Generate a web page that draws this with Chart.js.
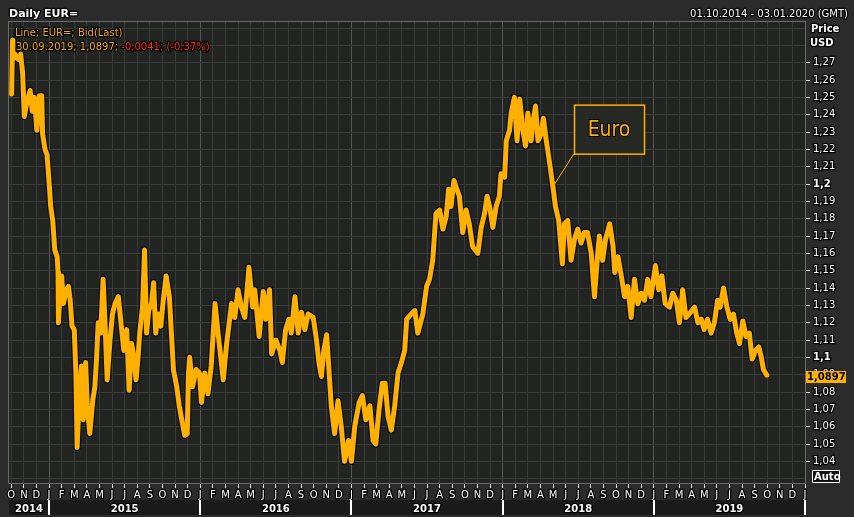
<!DOCTYPE html>
<html>
<head>
<meta charset="utf-8">
<script src="https://cdn.jsdelivr.net/npm/chart.js@4/dist/chart.umd.min.js"></script>
<style>
  html, body { margin: 0; padding: 0; background: #2b2b2b; }
  canvas { display: block; }
</style>
</head>
<body>
<canvas id="eur" width="854" height="517"></canvas>
<script>
// EUR= daily bid (roughly weekly samples)
const dates = [
  '2014-10-02','2014-10-04','2014-10-05','2014-10-10','2014-10-18','2014-10-24','2014-10-29',
  '2014-11-02','2014-11-08','2014-11-16','2014-11-21','2014-11-26',
  '2014-12-02','2014-12-08','2014-12-14','2014-12-16','2014-12-22','2014-12-27',
  '2015-01-02','2015-01-05','2015-01-10','2015-01-15','2015-01-21','2015-01-23','2015-01-24','2015-01-28',
  '2015-02-01','2015-02-05','2015-02-11','2015-02-16','2015-02-20','2015-02-24',
  '2015-03-01','2015-03-05','2015-03-08','2015-03-13','2015-03-19','2015-03-23','2015-03-29',
  '2015-04-02','2015-04-08','2015-04-15','2015-04-20','2015-04-24','2015-04-28',
  '2015-05-04','2015-05-10','2015-05-15','2015-05-20','2015-05-27',
  '2015-06-02','2015-06-08','2015-06-16','2015-06-21','2015-06-29',
  '2015-07-06','2015-07-12','2015-07-18','2015-07-24','2015-07-29',
  '2015-08-03','2015-08-07','2015-08-14','2015-08-19','2015-08-24','2015-08-29',
  '2015-09-05','2015-09-10','2015-09-15','2015-09-21','2015-09-27',
  '2015-10-03','2015-10-10','2015-10-18','2015-10-24','2015-10-28',
  '2015-11-05','2015-11-11','2015-11-17','2015-11-24','2015-11-30',
  '2015-12-03','2015-12-06','2015-12-13','2015-12-22','2015-12-30',
  '2016-01-04','2016-01-12','2016-01-20','2016-01-28',
  '2016-02-06','2016-02-13','2016-02-25',
  '2016-03-04','2016-03-16','2016-03-24',
  '2016-04-01','2016-04-09','2016-04-17','2016-04-27',
  '2016-05-06','2016-05-11','2016-05-22',
  '2016-06-01','2016-06-07','2016-06-16','2016-06-21',
  '2016-07-01','2016-07-11','2016-07-17','2016-07-25',
  '2016-08-02','2016-08-08','2016-08-17','2016-08-25',
  '2016-09-02','2016-09-10','2016-09-18','2016-09-30',
  '2016-10-08','2016-10-14','2016-10-20','2016-10-26',
  '2016-11-02','2016-11-09','2016-11-13','2016-11-21','2016-11-29',
  '2016-12-07','2016-12-15','2016-12-25',
  '2017-01-01','2017-01-09','2017-01-20','2017-01-28',
  '2017-02-05','2017-02-14','2017-02-21','2017-02-27',
  '2017-03-07','2017-03-15','2017-03-22','2017-03-29',
  '2017-04-06','2017-04-14','2017-04-22','2017-04-30',
  '2017-05-08','2017-05-13','2017-05-24',
  '2017-06-02','2017-06-09','2017-06-21','2017-06-30',
  '2017-07-07','2017-07-15','2017-07-23',
  '2017-08-01','2017-08-09','2017-08-17','2017-08-23','2017-08-29',
  '2017-09-05','2017-09-12','2017-09-18','2017-09-26',
  '2017-10-04','2017-10-12','2017-10-20',
  '2017-11-02','2017-11-10','2017-11-18','2017-11-24','2017-11-30',
  '2017-12-08','2017-12-16','2017-12-24','2017-12-28',
  '2018-01-06','2018-01-10','2018-01-18','2018-01-22','2018-01-30',
  '2018-02-05','2018-02-11','2018-02-18','2018-02-24',
  '2018-03-01','2018-03-09','2018-03-13','2018-03-20','2018-03-26',
  '2018-04-03','2018-04-08','2018-04-15','2018-04-23',
  '2018-05-01','2018-05-07','2018-05-15','2018-05-24','2018-05-29',
  '2018-06-06','2018-06-14','2018-06-22','2018-06-30',
  '2018-07-08','2018-07-16','2018-07-24',
  '2018-08-02','2018-08-10','2018-08-18','2018-08-22','2018-08-30',
  '2018-09-06','2018-09-16','2018-09-24','2018-09-28',
  '2018-10-06','2018-10-14','2018-10-22','2018-10-30',
  '2018-11-07','2018-11-15','2018-11-23',
  '2018-12-01','2018-12-09','2018-12-17','2018-12-25',
  '2019-01-05','2019-01-13','2019-01-21','2019-01-29',
  '2019-02-08','2019-02-15','2019-02-23',
  '2019-03-02','2019-03-10','2019-03-18','2019-03-26',
  '2019-04-08','2019-04-16','2019-04-24',
  '2019-05-01','2019-05-09','2019-05-18','2019-05-26',
  '2019-06-03','2019-06-09','2019-06-17','2019-06-25',
  '2019-07-03','2019-07-11','2019-07-19','2019-07-26',
  '2019-08-03','2019-08-11','2019-08-19','2019-08-26',
  '2019-09-03','2019-09-11','2019-09-17','2019-09-22','2019-09-30'
];
const prices = [
  1.252,1.283,1.272,1.275,1.272,1.275,1.264,
  1.239,1.247,1.254,1.242,1.250,
  1.231,1.251,1.251,1.229,1.220,1.217,
  1.198,1.187,1.179,1.162,1.158,1.149,1.120,1.137,
  1.147,1.131,1.139,1.141,1.133,1.118,
  1.116,1.091,1.048,1.075,1.095,1.064,1.097,
  1.072,1.056,1.075,1.083,1.099,1.120,
  1.114,1.145,1.118,1.087,1.110,
  1.125,1.131,1.135,1.123,1.104,
  1.116,1.081,1.108,1.100,1.087,
  1.100,1.114,1.129,1.162,1.114,1.127,
  1.131,1.143,1.114,1.125,1.118,
  1.133,1.147,1.135,1.110,1.093,
  1.083,1.072,1.064,1.055,1.056,
  1.091,1.100,1.083,1.093,1.091,
  1.074,1.091,1.079,1.095,
  1.131,1.114,1.087,
  1.108,1.131,1.123,
  1.139,1.129,1.123,1.152,
  1.129,1.139,1.112,
  1.138,1.122,1.139,1.102,
  1.110,1.104,1.097,1.116,
  1.122,1.114,1.135,1.114,
  1.126,1.116,1.125,1.123,
  1.110,1.097,1.089,1.104,
  1.113,1.087,1.072,1.056,1.075,
  1.060,1.040,1.052,
  1.040,1.060,1.074,1.078,
  1.064,1.072,1.052,1.050,
  1.070,1.085,1.085,1.066,
  1.058,1.072,1.091,1.097,
  1.104,1.122,1.125,
  1.127,1.114,1.125,1.141,
  1.145,1.156,1.183,
  1.185,1.174,1.181,1.197,1.187,
  1.202,1.197,1.193,1.172,
  1.185,1.177,1.164,
  1.160,1.175,1.183,1.193,1.187,
  1.175,1.187,1.193,1.206,
  1.204,1.225,1.231,1.241,1.250,
  1.225,1.249,1.231,1.222,
  1.241,1.225,1.235,1.245,1.225,
  1.229,1.238,1.225,1.212,
  1.198,1.187,1.179,1.154,1.177,
  1.179,1.156,1.168,1.174,
  1.166,1.172,1.172,
  1.160,1.135,1.160,1.170,1.156,
  1.168,1.177,1.164,1.149,
  1.158,1.147,1.135,1.141,
  1.123,1.145,1.131,
  1.137,1.133,1.145,1.135,
  1.153,1.139,1.147,1.131,
  1.129,1.137,1.133,
  1.120,1.139,1.123,1.125,
  1.129,1.120,1.122,
  1.116,1.122,1.114,1.120,
  1.133,1.129,1.140,1.129,
  1.122,1.125,1.114,1.108,
  1.121,1.112,1.114,1.099,
  1.104,1.106,1.100,1.093,1.0897
];

const priceTicks = [1.04,1.05,1.06,1.07,1.08,1.09,1.1,1.11,1.12,1.13,1.14,1.15,1.16,
  1.17,1.18,1.19,1.2,1.21,1.22,1.23,1.24,1.25,1.26,1.27];
const boldTicks = [1.1, 1.2];
const monthLetters = ['O','N','D','J','F','M','A','M','J','J','A','S'];
const years = ['2014','2015','2016','2017','2018','2019'];
const lastPrice = '1,0897';
const euroNote = { text: 'Euro', date: '2018-05-01', price: 1.1985 };

const FONT = '"DejaVu Sans", Verdana, sans-serif';
const ORANGE = '#ffb000';

// months since 1 Oct 2014, fractional
function monthIndex(d) {
  const [y, m, dd] = d.split('-').map(Number);
  const dim = new Date(y, m, 0).getDate();
  return (y - 2014) * 12 + (m - 10) + (dd - 1) / dim;
}
const points = dates.map((d, i) => ({ x: monthIndex(d), y: prices[i] }));

const isIn = (list, v) => v != null && list.some(p => Math.abs(p - v) < 1e-6);
const tickVal = c => (c && c.tick) ? c.tick.value : null;

function outlined(ctx, text, x, y, fill, w) {
  ctx.lineJoin = 'round';
  ctx.strokeStyle = '#000';
  ctx.lineWidth = w || 2.5;
  ctx.strokeText(text, x, y);
  ctx.fillStyle = fill;
  ctx.fillText(text, x, y);
}

const frame = {
  id: 'frame',
  beforeDraw(chart) {
    const { ctx, chartArea: a } = chart;
    ctx.save();
    ctx.fillStyle = '#2b2b2b';
    ctx.fillRect(0, 0, chart.width, chart.height);
    ctx.fillStyle = '#222421';
    ctx.fillRect(a.left, a.top, a.right - a.left, a.bottom - a.top);
    // year band under the month letters
    ctx.fillStyle = '#1a1a1a';
    ctx.fillRect(a.left, 500, a.right - a.left, 15);
    ctx.restore();
  },
  beforeDatasetsDraw(chart) {
    const { ctx, chartArea: a } = chart;
    ctx.save();
    ctx.strokeStyle = '#6a6a6a';
    ctx.lineWidth = 1;
    ctx.strokeRect(a.left - 0.5, a.top - 0.5, a.right - a.left + 1, a.bottom - a.top + 1);
    ctx.restore();
  },
  afterDatasetsDraw(chart) {
    const { ctx, scales: { x, y } } = chart;
    // Euro callout
    const px = x.getPixelForValue(monthIndex(euroNote.date));
    const py = y.getPixelForValue(euroNote.price);
    const bx = px + 21, by = py - 82, bw = 70, bh = 49;
    ctx.save();
    ctx.strokeStyle = ORANGE;
    ctx.lineWidth = 1;
    ctx.beginPath();
    ctx.moveTo(px, py);
    ctx.lineTo(bx, by + bh);
    ctx.stroke();
    ctx.fillStyle = '#262824';
    ctx.fillRect(bx, by, bw, bh);
    ctx.lineWidth = 1.5;
    ctx.strokeRect(bx + 0.5, by + 0.5, bw, bh);
    ctx.font = '21px "DejaVu Sans Condensed", ' + FONT;
    ctx.textAlign = 'center';
    ctx.textBaseline = 'middle';
    outlined(ctx, euroNote.text, bx + bw / 2, by + bh / 2 + 1, ORANGE, 2);
    ctx.restore();
  },
  afterDraw(chart) {
    const { ctx, scales: { x, y } } = chart;
    ctx.save();
    ctx.textBaseline = 'alphabetic';

    // header
    ctx.font = 'bold 11px ' + FONT;
    ctx.textAlign = 'left';
    outlined(ctx, 'Daily EUR=', 9, 17, '#ffffff');
    ctx.font = '10px ' + FONT;
    ctx.textAlign = 'right';
    outlined(ctx, '01.10.2014 - 03.01.2020 (GMT)', 848, 17, '#ffffff');

    // legend
    ctx.textAlign = 'left';
    outlined(ctx, 'Line; EUR=; Bid(Last)', 15, 36, '#f5aa00');
    const part1 = '30.09.2019; 1,0897; ';
    outlined(ctx, part1, 16, 50, '#f5aa00');
    outlined(ctx, '-0,0041; (-0,37%)', 16 + ctx.measureText(part1).width, 50, '#ff2a1a');

    // month letters on the x ticks
    ctx.textAlign = 'center';
    x.ticks.forEach(t => {
      outlined(ctx, monthLetters[t.value % 12], x.getPixelForValue(t.value), 498, '#ffffff');
    });

    // axis caption
    ctx.textAlign = 'left';
    ctx.font = 'bold 10px ' + FONT;
    outlined(ctx, 'Price', 811, 32, '#ffffff');
    outlined(ctx, 'USD', 810, 46, '#ffffff');

    // last price tag
    const ly = Math.round(y.getPixelForValue(prices[prices.length - 1])) + 2;
    ctx.fillStyle = ORANGE;
    ctx.fillRect(806, ly - 6, 40, 12);
    ctx.fillStyle = '#000';
    ctx.textBaseline = 'middle';
    ctx.fillText(lastPrice, 807, ly + 0.5);

    // Auto box
    ctx.fillStyle = '#111';
    ctx.fillRect(812, 470, 28, 13);
    ctx.strokeStyle = '#ffffff';
    ctx.lineWidth = 1;
    ctx.strokeRect(812.5, 470.5, 27, 12);
    ctx.fillStyle = '#ffffff';
    ctx.fillText('Auto', 814, 477);

    // years under the month letters
    ctx.textAlign = 'center';
    ctx.textBaseline = 'alphabetic';
    years.forEach((yr, i) => {
      const start = Math.max(x.min, (Number(yr) - 2014) * 12 - 9);
      const end = Math.min(x.max, (Number(yr) - 2014) * 12 + 3);
      const s = x.getPixelForValue(start), e = x.getPixelForValue(end);
      outlined(ctx, yr, (s + e) / 2, 512, '#ffffff');
      if (i > 0) {
        ctx.fillStyle = '#ffffff';
        ctx.fillRect(Math.round(s) - 1, 500, 2, 15);
      }
    });
    const last = x.getPixelForValue(63);
    ctx.fillStyle = '#ffffff';
    ctx.fillRect(Math.round(last) - 1, 500, 2, 15);
    ctx.restore();
  }
};

new Chart(document.getElementById('eur'), {
  type: 'line',
  data: {
    datasets: [
      { data: points, borderColor: ORANGE, borderWidth: 5, pointRadius: 0,
        tension: 0, borderJoinStyle: 'round', borderCapStyle: 'round', order: 0 },
      { data: points, borderColor: '#07101c', borderWidth: 7.5, pointRadius: 0,
        tension: 0, borderJoinStyle: 'round', order: 1 }
    ]
  },
  options: {
    responsive: false,
    animation: false,
    events: [],
    layout: { padding: { left: 9, top: 22, right: 0, bottom: 0 } },
    plugins: { legend: { display: false }, tooltip: { enabled: false } },
    scales: {
      x: {
        type: 'linear',
        min: -0.18,
        max: 63,
        afterBuildTicks: axis => {
          axis.ticks = [];
          for (let m = 0; m <= 63; m++) axis.ticks.push({ value: m });
        },
        afterFit: axis => { axis.height = 34; },
        border: { display: false },
        grid: {
          color: c => (tickVal(c) !== null && tickVal(c) % 12 === 3) ? '#555' : '#393b39',
          lineWidth: 1,
          tickColor: '#e8e8e8',
          tickLength: 5
        },
        ticks: {
          autoSkip: false,
          maxRotation: 0,
          padding: 1,
          font: { family: FONT, size: 10 },
          callback: () => ''
        }
      },
      y: {
        position: 'right',
        min: 1.0275,
        max: 1.2935,
        afterBuildTicks: axis => {
          axis.ticks = [1.03, ...priceTicks, 1.28, 1.29].map(v => ({ value: v }));
        },
        afterFit: axis => { axis.width = 49; },
        border: { display: false },
        grid: {
          color: '#393b39',
          lineWidth: 1,
          tickColor: c => isIn(priceTicks, tickVal(c)) ? '#e8e8e8' : 'rgba(0,0,0,0)',
          tickLength: 5
        },
        ticks: {
          padding: 3,
          color: '#ffffff',
          textStrokeColor: '#000',
          textStrokeWidth: 2.5,
          font: c => ({
            family: FONT, size: 10,
            weight: isIn(boldTicks, tickVal(c)) ? 'bold' : 'normal'
          }),
          callback: v => isIn(priceTicks, v)
            ? v.toFixed(2).replace(/0$/, '').replace('.', ',') : ''
        }
      }
    }
  },
  plugins: [frame]
});
</script>
</body>
</html>
